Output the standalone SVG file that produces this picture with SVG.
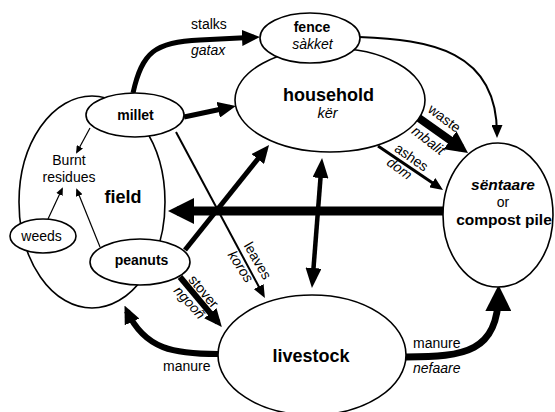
<svg xmlns="http://www.w3.org/2000/svg" width="555" height="412" viewBox="0 0 555 412">
<style>
text{font-family:"Liberation Sans",Arial,sans-serif;font-size:14px;fill:#000}
.b{font-weight:bold}
.i{font-style:italic}
.m{text-anchor:middle}
.node{fill:#fff;stroke:#000;stroke-width:1.6}
.c{fill:none;stroke:#000}
</style>
<defs>
<marker id="a1" markerUnits="userSpaceOnUse" markerWidth="8" markerHeight="7" refX="6" refY="3.5" orient="auto"><path d="M0,0L8,3.5L0,7z"/></marker>
<marker id="a2" markerUnits="userSpaceOnUse" markerWidth="13" markerHeight="11" refX="9" refY="5.5" orient="auto-start-reverse"><path d="M0,0L13,5.5L0,11z"/></marker>
<marker id="a3" markerUnits="userSpaceOnUse" markerWidth="18" markerHeight="16" refX="12" refY="8" orient="auto-start-reverse"><path d="M0,0L18,8L0,16z"/></marker>
<marker id="a3b" markerUnits="userSpaceOnUse" markerWidth="20" markerHeight="16" refX="13" refY="8" orient="auto-start-reverse"><path d="M0,0L20,8L0,16z"/></marker>
<marker id="a4" markerUnits="userSpaceOnUse" markerWidth="26" markerHeight="26" refX="17" refY="13" orient="auto"><path d="M0,0L26,13L0,26z"/></marker>
<marker id="a5" markerUnits="userSpaceOnUse" markerWidth="22" markerHeight="22" refX="14" refY="11" orient="auto"><path d="M0,0L22,11L0,22z"/></marker>
</defs>
<g id="field">
<ellipse class="node" cx="92" cy="202" rx="73" ry="106"/>
<text class="b m" x="123" y="203" style="font-size:18px">field</text>
<text class="m" x="69" y="165">Burnt</text>
<text class="m" x="69" y="182">residues</text>
</g>
<g id="connectors">
<path class="c" stroke-width="5" marker-end="url(#a3)" d="M133,93C142,52 155,42 200,40L254,37.3"/>
<path class="c" stroke-width="5" marker-end="url(#a3)" d="M184,117L230,107.3"/>
<path class="c" stroke-width="2" marker-end="url(#a2)" d="M359,37C430,40 497,50 497,134"/>
<path class="c" stroke-width="8" marker-end="url(#a5)" d="M416,116L461.5,148.3"/>
<path class="c" stroke-width="3" marker-end="url(#a2)" d="M378,146L439.7,187.7"/>
<path class="c" stroke-width="9" marker-end="url(#a4)" d="M444,211L177,211"/>
<path class="c" stroke-width="5" marker-end="url(#a3)" d="M185,250L265.3,149.7"/>
<path class="c" stroke-width="4.5" marker-start="url(#a3b)" marker-end="url(#a3b)" d="M321.5,165L312.5,281"/>
<path class="c" stroke-width="2" marker-end="url(#a2)" d="M176,132L263,294.5"/>
<path class="c" stroke-width="6" marker-end="url(#a3)" d="M180,277L218,322.4"/>
<path class="c" stroke-width="6" marker-end="url(#a3)" d="M218,354C175,354 145,350 127,311"/>
<path class="c" stroke-width="7" marker-end="url(#a4)" d="M406,357C465,357 498,352 498.5,294"/>
<path class="c" stroke-width="1.2" marker-end="url(#a1)" d="M90,128L77,152"/>
<path class="c" stroke-width="1.2" marker-end="url(#a1)" d="M48,219L62,189"/>
<path class="c" stroke-width="1.2" marker-end="url(#a1)" d="M100,247L77,190"/>
</g>
<g id="millet">
<ellipse class="node" cx="135" cy="115" rx="49" ry="22"/>
<text class="b m" x="135.5" y="120">millet</text>
</g>
<g id="peanuts">
<ellipse class="node" cx="140" cy="262" rx="50" ry="23"/>
<text class="b m" x="141.5" y="265">peanuts</text>
</g>
<g id="weeds">
<ellipse class="node" cx="43" cy="236" rx="33" ry="17" stroke-width="1.2"/>
<text class="m" x="41.5" y="241">weeds</text>
</g>
<g id="household">
<ellipse class="node" cx="330" cy="100" rx="95" ry="52"/>
<text class="b m" x="328.5" y="101" style="font-size:18px">household</text>
<text class="i m" x="327.5" y="118" style="font-size:14.5px">kër</text>
</g>
<g id="fence">
<ellipse class="node" cx="310" cy="38" rx="50" ry="25"/>
<text class="b m" x="312" y="32">fence</text>
<text class="i m" x="312.5" y="49">sàkket</text>
</g>
<g id="compost">
<ellipse class="node" cx="498" cy="215" rx="55" ry="72"/>
<text class="b i m" x="503" y="190" style="font-size:15.5px">sëntaare</text>
<text class="m" x="503" y="207">or</text>
<text class="b m" x="504" y="225" style="font-size:15.5px">compost pile</text>
</g>
<g id="livestock">
<ellipse class="node" cx="312" cy="355" rx="94" ry="60"/>
<text class="b m" x="311" y="362" style="font-size:18px">livestock</text>
</g>
<g id="connector-labels">
<text x="191" y="29">stalks</text>
<text class="i" x="191" y="55">gatax</text>
<text class="m" transform="translate(444,119) rotate(37)" y="4">waste</text>
<text class="m i" transform="translate(428,141) rotate(38)" y="4">mbalit</text>
<text class="m" transform="translate(411,158) rotate(35)" y="4">ashes</text>
<text class="m i" transform="translate(399,169) rotate(36)" y="4">dom</text>
<text class="m" transform="translate(257,261) rotate(60)" y="4">leaves</text>
<text class="m i" transform="translate(240,267) rotate(57)" y="4">koros</text>
<text class="m" transform="translate(203,292) rotate(50)" y="4">stover</text>
<text class="m i" transform="translate(189,303) rotate(48)" y="4">ngooñ</text>
<text x="163" y="371">manure</text>
<text x="413" y="348">manure</text>
<text class="i" x="413" y="373">nefaare</text>
</g>
</svg>
